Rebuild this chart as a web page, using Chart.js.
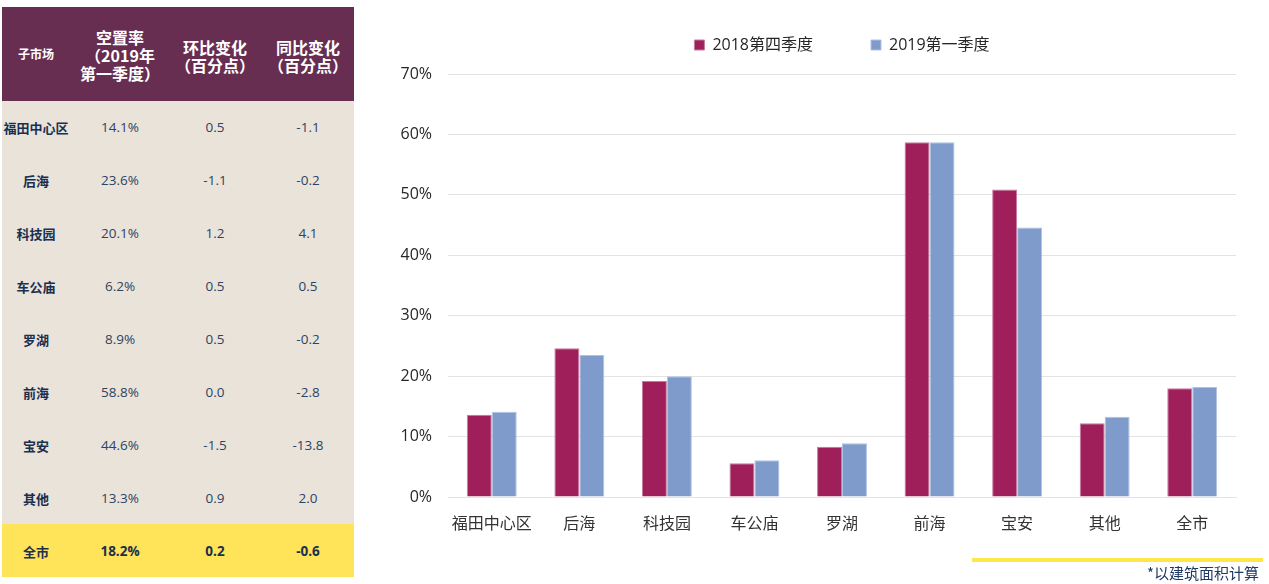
<!DOCTYPE html>
<html>
<head>
<meta charset="utf-8">
<script src="https://cdn.jsdelivr.net/npm/chart.js@4/dist/chart.umd.min.js"></script>
<style>
  html,body{margin:0;padding:0;background:#fff;}
  body{width:1269px;height:584px;position:relative;overflow:hidden;font-family:'Open Sans','Noto Sans CJK SC',sans-serif;}
  #tbl{position:absolute;left:2px;top:7px;width:352px;}
  .hdr{position:absolute;left:0;top:0;width:352px;height:94px;background:#672E52;}
  .body{position:absolute;left:0;top:94px;width:352px;height:423px;background:#E9E3DA;}
  .tot{position:absolute;left:0;top:517px;width:352px;height:53px;background:#FFE358;}
  .cell{position:absolute;transform:translate(-50%,-50%);white-space:nowrap;text-align:center;}
  .h{color:#fff;font-weight:bold;font-size:16px;line-height:18px;font-family:'Noto Sans CJK SC',sans-serif;}
  .n{color:#1B2F4E;font-weight:bold;font-size:13px;font-family:'Noto Sans CJK SC',sans-serif;}
  .v{color:#2C4363;font-size:13.5px;}
  .b{font-weight:bold;color:#1B2F4E;}
  #wrap{position:absolute;left:370px;top:-21px;width:899px;height:581px;}
  #yl{position:absolute;left:972px;top:558px;width:291px;height:4px;background:#FFE64D;}
  #fn{position:absolute;left:1147px;top:563px;font-size:15px;color:#1F3864;font-family:'Noto Sans CJK SC',sans-serif;line-height:20px;}
</style>
</head>
<body>
<div id="tbl">
  <div class="hdr"></div>
  <div class="body"></div>
  <div class="tot"></div>
</div>
<div id="wrap"><canvas id="c" width="899" height="581"></canvas></div>
<div id="yl"></div>
<div id="fn">*以建筑面积计算</div>
<script>
// ---- Data ----
const categories = ['福田中心区','后海','科技园','车公庙','罗湖','前海','宝安','其他','全市'];
const seriesNames = ['2018第四季度','2019第一季度'];
const q4_2018 = [13.6, 24.6, 19.2, 5.6, 8.3, 58.7, 50.9, 12.2, 18.0];
const q1_2019 = [14.1, 23.5, 20.0, 6.1, 8.9, 58.7, 44.6, 13.3, 18.2];
const yTicks = [0,10,20,30,40,50,60,70];

// ---- Table data ----
const tableHeaders = [['子市场'], ['空置率','（2019年','第一季度）'], ['环比变化','（百分点）'], ['同比变化','（百分点）']];
const tableMarkets = ['福田中心区','后海','科技园','车公庙','罗湖','前海','宝安','其他','全市'];
const tableVacancy = ['14.1%','23.6%','20.1%','6.2%','8.9%','58.8%','44.6%','13.3%','18.2%'];
const tableQoQ = ['0.5','-1.1','1.2','0.5','0.5','0.0','-1.5','0.9','0.2'];
const tableYoY = ['-1.1','-0.2','4.1','0.5','-0.2','-2.8','-13.8','2.0','-0.6'];

// build table
(function(){
  const t = document.getElementById('tbl');
  const colX = [34, 118, 213, 306];
  tableHeaders.forEach((lines, i) => {
    const d = document.createElement('div');
    d.className = 'cell h';
    d.style.left = colX[i] + 'px';
    d.style.top = (i===0 ? 47 : (lines.length===3 ? 48 : 49)) + 'px';
    if (i===0) d.style.fontSize = '12px';
    d.innerHTML = lines.join('<br>');
    t.appendChild(d);
  });
  const cols = [tableMarkets, tableVacancy, tableQoQ, tableYoY];
  for (let r = 0; r < tableMarkets.length; r++) {
    const cy = r < 8 ? 94 + 52.9*(r+0.5) : 543.5;
    cols.forEach((col, c) => {
      const d = document.createElement('div');
      d.className = 'cell ' + (c===0 ? 'n' : 'v') + (r===8 && c>0 ? ' b' : '');
      d.style.left = colX[c] + 'px';
      d.style.top = cy + 'px';
      d.textContent = col[r];
      t.appendChild(d);
    });
  }
})();

const fontFam = "'Open Sans','Noto Sans CJK SC',sans-serif";

const legendFit = {
  id: 'legendFit',
  beforeInit(chart) {
    const orig = chart.legend.fit;
    chart.legend.fit = function() {
      orig.bind(chart.legend)();
      this.height = 95;
    };
  },
  afterLayout(chart) {
    // center the legend over the plot area
    chart.legend.left = chart.chartArea.left;
    chart.legend.right = chart.chartArea.right;
    chart.legend.width = chart.chartArea.right - chart.chartArea.left;
  }
};

new Chart(document.getElementById('c'), {
  type: 'bar',
  data: {
    labels: categories,
    datasets: [
      { label: seriesNames[0], data: q4_2018, backgroundColor: '#9E1F5A', borderColor: '#C77A9E', borderWidth: 1, categoryPercentage: 0.57, barPercentage: 1.0 },
      { label: seriesNames[1], data: q1_2019, backgroundColor: '#7F9BCB', borderColor: '#AFC2E2', borderWidth: 1, categoryPercentage: 0.57, barPercentage: 1.0 }
    ]
  },
  options: {
    responsive: false,
    animation: false,
    devicePixelRatio: 1,
    layout: { padding: { top: 0, right: 33, bottom: 23, left: 0 } },
    plugins: {
      legend: {
        position: 'top',
        labels: {
          usePointStyle: true, pointStyle: 'rect', boxWidth: 10, boxHeight: 10,
          padding: 58, color: '#262626',
          font: { family: fontFam, size: 16 }
        }
      },
      tooltip: { enabled: false }
    },
    scales: {
      x: {
        grid: { display: false, drawTicks: false },
        border: { display: true, color: '#E3E3E3', width: 1 },
        ticks: { color: '#333333', font: { family: fontFam, size: 16 }, padding: 18, maxRotation: 0 },
        afterFit(s) { s.height = 40; }
      },
      y: {
        min: 0, max: 70,
        afterBuildTicks(s) { s.ticks = yTicks.map(v => ({ value: v })); },
        grid: { color: '#E3E3E3', lineWidth: 1, drawTicks: false },
        border: { display: false },
        ticks: { color: '#262626', font: { family: fontFam, size: 16 }, padding: 16, callback: v => v + '%' },
        afterFit(s) { s.width = 78; }
      }
    }
  },
  plugins: [legendFit]
});
</script>
</body>
</html>
